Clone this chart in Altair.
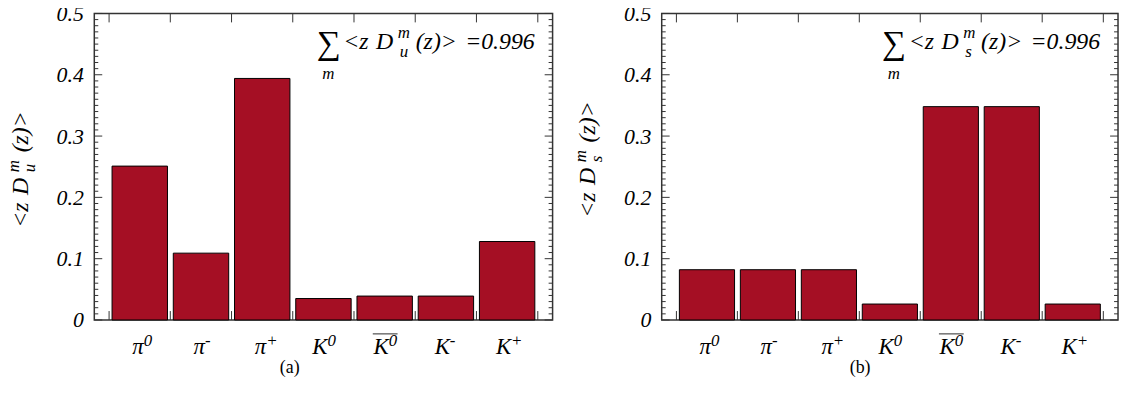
import altair as alt
import pandas as pd

# ---------------- data ----------------
cat_keys = ["pi0", "pi-", "pi+", "K0", "K0bar", "K-", "K+"]
label_base = ["π", "π", "π", "K", "K", "K", "K"]
label_sup = ["0", "-", "+", "0", "0", "-", "+"]
label_bar = [False, False, False, False, True, False, False]
du_values = [0.251, 0.109, 0.394, 0.035, 0.039, 0.039, 0.128]
ds_values = [0.082, 0.082, 0.082, 0.026, 0.348, 0.348, 0.026]
y_major = [0, 0.1, 0.2, 0.3, 0.4, 0.5]
y_minor = [round(i / 100, 2) for i in range(1, 50) if i % 10]
sum_value = "=0.996"
flavours = ["u", "s"]
captions = ["(a)", "(b)"]

FONT = "Liberation Serif"
BAR = "#A50F24"
FRAME = "#333333"
H = 309
MAIN = 24
SMALL = 17


def txt(text, x, y, size, style="italic", align="left", angle=0, baseline="alphabetic"):
    return alt.Chart(alt.Data(values=[{}])).mark_text(
        text=text, font=FONT, fontSize=size, fontStyle=style, align=align,
        baseline=baseline, angle=angle, color="black"
    ).encode(x=alt.value(x), y=alt.value(y))


def panel(values, flav, caption, W, y0, cap_x):
    df = pd.DataFrame({"cat": cat_keys, "v": values, "base": label_base,
                       "sup": label_sup, "bar": label_bar})
    xs = alt.Scale(domain=cat_keys, paddingInner=0.095, paddingOuter=0.29)
    ys = alt.Scale(domain=[0, 0.5], nice=False, zero=True)
    yaxis = alt.Axis(values=y_major,
                     labelExpr="datum.value == 0 ? '0' : format(datum.value, '.1f')",
                     labelFont=FONT, labelFontStyle="italic", labelFontSize=22,
                     labelColor="black", labelPadding=11, ticks=False,
                     domain=False, grid=False, title=None)

    def X(**kw):
        return alt.X("cat:N", scale=xs, axis=None, **kw)

    Y = alt.Y("v:Q", scale=ys, axis=yaxis)

    base = alt.Chart(df)
    bars = base.mark_bar(fill=BAR, stroke="black", strokeWidth=1).encode(x=X(), y=Y)

    maj = alt.Chart(pd.DataFrame({"v": y_major}))
    mino = alt.Chart(pd.DataFrame({"v": y_minor}))
    tick_layers = [
        maj.mark_rule(color=FRAME, strokeWidth=1).encode(y=Y, x=alt.value(0), x2=alt.value(8)),
        maj.mark_rule(color=FRAME, strokeWidth=1).encode(y=Y, x=alt.value(W), x2=alt.value(W - 8)),
        mino.mark_rule(color=FRAME, strokeWidth=1).encode(y=Y, x=alt.value(0), x2=alt.value(4)),
        mino.mark_rule(color=FRAME, strokeWidth=1).encode(y=Y, x=alt.value(W), x2=alt.value(W - 4)),
        base.mark_rule(color=FRAME, strokeWidth=1, xOffset=-3).encode(
            x=X(bandPosition=0), y=alt.value(H), y2=alt.value(H - 9)),
        base.mark_rule(color=FRAME, strokeWidth=1, xOffset=-3).encode(
            x=X(bandPosition=0), y=alt.value(0), y2=alt.value(9)),
        alt.Chart(df.tail(1)).mark_rule(color=FRAME, strokeWidth=1, xOffset=3).encode(
            x=X(bandPosition=1), y=alt.value(H), y2=alt.value(H - 9)),
        alt.Chart(df.tail(1)).mark_rule(color=FRAME, strokeWidth=1, xOffset=3).encode(
            x=X(bandPosition=1), y=alt.value(0), y2=alt.value(9)),
    ]

    labels = [
        base.mark_text(align="right", baseline="alphabetic", font=FONT, fontStyle="italic",
                       fontSize=23, dx=4, color="black").encode(
            x=X(), y=alt.value(343), text="base:N"),
        base.mark_text(align="left", baseline="alphabetic", font=FONT, fontStyle="italic",
                       fontSize=SMALL, dx=4, color="black").encode(
            x=X(), y=alt.value(335), text="sup:N"),
        alt.Chart(df[df["bar"]]).mark_tick(orient="horizontal", size=25, thickness=1.2,
                                           color="black", xOffset=0.5).encode(
            x=X(), y=alt.value(323)),
    ]

    tx = -67
    ytitle = [
        txt("<z", tx, y0, MAIN, angle=270),
        txt("D", tx, y0 - 33, MAIN, angle=270),
        txt("m", tx - 9, y0 - 56, SMALL, angle=270),
        txt(flav, tx + 7, y0 - 56, SMALL, angle=270),
        txt("(z)>", tx, y0 - 76, MAIN, angle=270),
    ]

    annot = [
        txt("∑", W - 226, 41, 34, style="normal", align="center"),
        txt("m", W - 226, 66, SMALL, align="center"),
        txt("<z", W - 211, 36, MAIN),
        txt("D", W - 178, 36, MAIN),
        txt("m", W - 156, 25, SMALL),
        txt(flav, W - 154, 44, SMALL),
        txt("(z)>", W - 138, 36, MAIN),
        txt(sum_value, W - 18, 36, MAIN, align="right"),
        txt(caption, cap_x, 362, 18, style="normal", align="center"),
    ]

    return alt.layer(bars, *tick_layers, *labels, *ytitle, *annot).properties(width=W, height=H)


pa = panel(du_values, flavours[0], captions[0], 462, 216, 197)
pb = panel(ds_values, flavours[1], captions[1], 460, 206, 200)

chart = alt.hconcat(pa, pb, spacing=110, bounds="flush").configure_view(
    stroke=FRAME, strokeWidth=1.5
).properties(padding={"left": -4, "top": -8, "right": 0, "bottom": 0})

chart.save("out.html", embed_options={"renderer": "svg", "actions": False})
